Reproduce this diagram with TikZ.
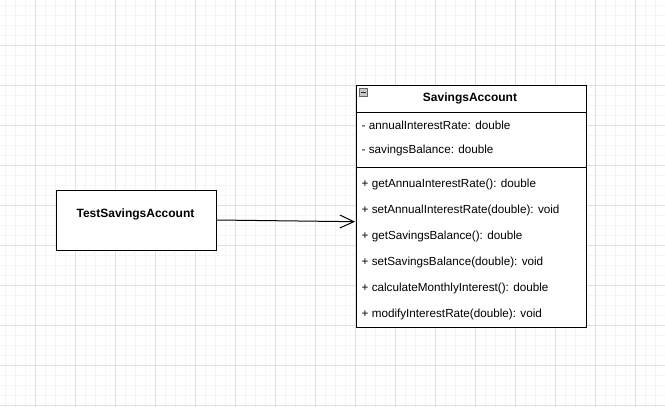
\documentclass[tikz,border=0pt]{standalone}
\usepackage{fontspec}
\setmainfont{Liberation Sans}
\usetikzlibrary{arrows.meta}
\begin{document}
\begin{tikzpicture}[x=1pt,y=-1pt,
  minorgrid/.style={draw=black!4,line width=1pt},
  majorgrid/.style={draw=black!12,line width=1pt},
  umlbox/.style={draw=black,line width=1pt,fill=white},
  member/.style={anchor=west,inner sep=0pt,font=\fontsize{11.7}{13}\selectfont},
  titletext/.style={inner sep=0pt,font=\bfseries\fontsize{12}{14}\selectfont},
  assoc/.style={draw=black,line width=1pt,-{Straight Barb[length=14pt,width=13pt,line width=1pt]}}
]
\useasboundingbox (0,0) rectangle (665,407);
\fill[white] (0,0) rectangle (665,407);
% minor grid
\foreach \x in {5,15,...,665} \draw[minorgrid] (\x,0) -- (\x,407);
\foreach \y in {5,15,...,405} \draw[minorgrid] (0,\y) -- (665,\y);
% major grid
\foreach \x in {35,75,...,665} \draw[majorgrid] (\x,0) -- (\x,407);
\foreach \y in {45,85,...,405} \draw[majorgrid] (0,\y) -- (665,\y);

% TestSavingsAccount box
\node[umlbox,minimum width=160pt,minimum height=60pt,anchor=north west,inner sep=0pt] (test) at (55.5,189.5) {};
\node[titletext] (testlabel) at (135.5,214) {TestSavingsAccount};

% SavingsAccount class
\node[umlbox,minimum width=230pt,minimum height=242pt,anchor=north west,inner sep=0pt] (cls) at (355.5,85) {};
\coordinate (sep1l) at (355.5,112);
\coordinate (sep1r) at (585.5,112);
\coordinate (sep2l) at (355.5,167);
\coordinate (sep2r) at (585.5,167);
\draw[line width=1pt] (sep1l) -- (sep1r);
\draw[line width=1pt] (sep2l) -- (sep2r);
\node[titletext] (clstitle) at (470,98.5) {SavingsAccount};
% collapse icon
\node[draw=black!60,fill=black!22,line width=0.9pt,minimum size=7.5pt,inner sep=0pt] (collapse) at (363.5,92.5) {};
\draw[line width=1.1pt,black!85] ([xshift=-2.2pt]collapse.center) -- ([xshift=2.2pt]collapse.center);

\node[member] (a1) at (361.5,125) {- annualInterestRate: double};
\node[member] (a2) at (361.5,150) {- savingsBalance: double};

\node[member] (m1) at (361.5,184.5) {+ getAnnuaInterestRate(): double};
\node[member] (m2) at (361.5,210.5) {+ setAnnualInterestRate(double): void};
\node[member] (m3) at (361.5,236.5) {+ getSavingsBalance(): double};
\node[member] (m4) at (361.5,262.5) {+ setSavingsBalance(double): void};
\node[member] (m5) at (361.5,288.5) {+ calculateMonthlyInterest(): double};
\node[member] (m6) at (361.5,314.5) {+ modifyInterestRate(double): void};

% association arrow
\coordinate (tip) at (355,221.7);
\draw[assoc] (test.east) -- (tip);
\end{tikzpicture}
\end{document}
